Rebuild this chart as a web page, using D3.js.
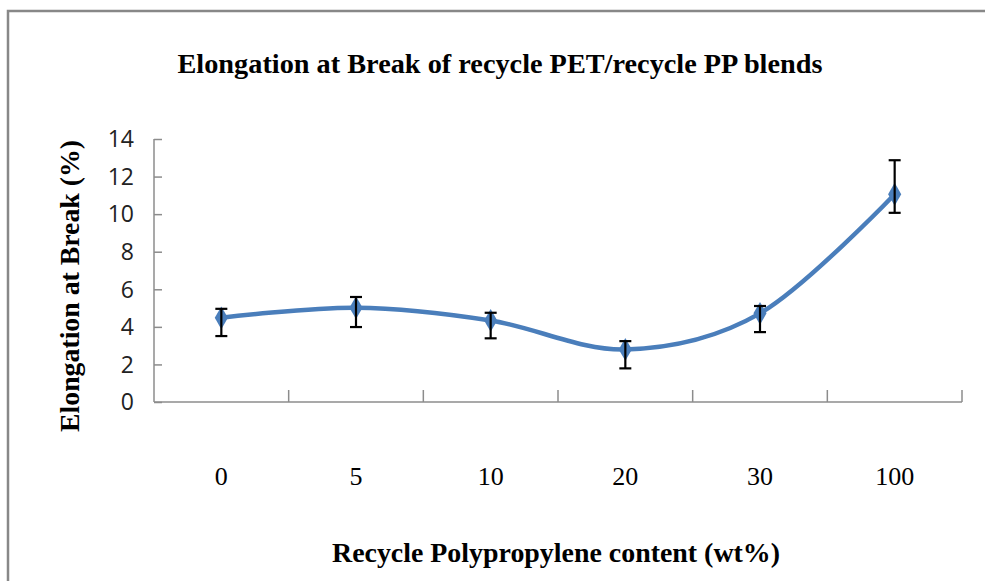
<!DOCTYPE html>
<html>
<head>
<meta charset="utf-8">
<script src="https://cdn.jsdelivr.net/npm/d3@7"></script>
<style>
  body { margin: 0; background: #fff; }
  svg { display: block; }
</style>
</head>
<body>
<div id="chart"></div>
<script>
// values
var categories = ["0", "5", "10", "20", "30", "100"];
var elongation = [4.48, 5.02, 4.34, 2.80, 4.72, 11.06];
var errUpper = [4.96, 5.59, 4.75, 3.24, 5.11, 12.87];
var errLower = [3.51, 3.99, 3.39, 1.79, 3.72, 10.07];
var yTicks = [0, 2, 4, 6, 8, 10, 12, 14];

var w = 985, h = 581;
var margin = {left: 154, right: 23, top: 139, bottom: 179};

var svg = d3.select("#chart").append("svg")
  .attr("width", w)
  .attr("height", h);

// outer frame (only top and left edges show)
svg.append("path")
  .attr("d", "M8," + h + "V11H" + w)
  .attr("fill", "none")
  .attr("stroke", "#888")
  .attr("stroke-width", 2.5);

var x = d3.scaleBand()
  .domain(categories)
  .range([margin.left, w - margin.right]);

var y = d3.scaleLinear()
  .domain([0, 14])
  .range([h - margin.bottom, margin.top]);

var axisColor = "#8c8c8c";

// y axis, ticks pointing inward
var yAxis = svg.append("g")
  .attr("transform", "translate(" + margin.left + ",0)")
  .call(d3.axisRight(y).tickValues(yTicks).tickSize(8).tickFormat(""));
yAxis.select(".domain").remove();
yAxis.selectAll(".tick line").attr("stroke", axisColor).attr("stroke-width", 1.5);

svg.append("line")
  .attr("x1", margin.left).attr("x2", margin.left)
  .attr("y1", y(14)).attr("y2", y(0))
  .attr("stroke", axisColor).attr("stroke-width", 1.5);

svg.selectAll(".ylab")
  .data(yTicks)
  .enter()
  .append("text")
  .attr("class", "ylab")
  .attr("x", 134)
  .attr("y", function(d) { return y(d); })
  .attr("dy", "0.36em")
  .attr("text-anchor", "end")
  .attr("font-family", "'Open Sans', sans-serif")
  .attr("font-size", 23)
  .attr("fill", "#222")
  .text(function(d) { return d; });

// x axis: tick marks at the category boundaries, pointing up
var bounds = categories.map(function(c) { return x(c) + x.bandwidth(); });
svg.append("line")
  .attr("x1", margin.left).attr("x2", w - margin.right)
  .attr("y1", y(0)).attr("y2", y(0))
  .attr("stroke", axisColor).attr("stroke-width", 1.5);

svg.selectAll(".xtick")
  .data(bounds)
  .enter()
  .append("line")
  .attr("x1", function(d) { return d; })
  .attr("x2", function(d) { return d; })
  .attr("y1", y(0))
  .attr("y2", y(0) - 12)
  .attr("stroke", axisColor)
  .attr("stroke-width", 1.5);

svg.selectAll(".xlab")
  .data(categories)
  .enter()
  .append("text")
  .attr("x", function(d) { return x(d) + x.bandwidth() / 2; })
  .attr("y", 485)
  .attr("text-anchor", "middle")
  .attr("font-family", "'Liberation Serif', 'Times New Roman', serif")
  .attr("font-size", 26)
  .attr("fill", "#000")
  .text(function(d) { return d; });

// smoothed line
var cx = function(d, i) { return x(categories[i]) + x.bandwidth() / 2; };

var line = d3.line()
  .x(cx)
  .y(function(d) { return y(d); })
  .curve(d3.curveCardinal.tension(0));

svg.append("path")
  .datum(elongation)
  .attr("d", line)
  .attr("fill", "none")
  .attr("stroke", "#4a7ebb")
  .attr("stroke-width", 4.5);

// markers
svg.selectAll(".marker")
  .data(elongation)
  .enter()
  .append("path")
  .attr("transform", function(d, i) { return "translate(" + cx(d, i) + "," + y(d) + ")"; })
  .attr("d", d3.symbol().type(d3.symbolDiamond).size(150))
  .attr("fill", "#4a7ebb");

// error bars
var err = svg.append("g").attr("stroke", "#000").attr("stroke-width", 2.2);
elongation.forEach(function(v, i) {
  var px = cx(v, i);
  err.append("line").attr("x1", px).attr("x2", px)
    .attr("y1", y(errUpper[i])).attr("y2", y(errLower[i]));
  err.append("line").attr("x1", px - 6).attr("x2", px + 6)
    .attr("y1", y(errUpper[i])).attr("y2", y(errUpper[i]));
  err.append("line").attr("x1", px - 6).attr("x2", px + 6)
    .attr("y1", y(errLower[i])).attr("y2", y(errLower[i]));
});

// titles
svg.append("text")
  .attr("x", 500)
  .attr("y", 73)
  .attr("text-anchor", "middle")
  .attr("font-family", "'Liberation Serif', 'Times New Roman', serif")
  .attr("font-weight", "bold")
  .attr("font-size", 28)
  .attr("textLength", 645)
  .attr("lengthAdjust", "spacingAndGlyphs")
  .attr("fill", "#000")
  .text("Elongation at Break of recycle PET/recycle PP blends");

svg.append("text")
  .attr("x", 556)
  .attr("y", 562)
  .attr("text-anchor", "middle")
  .attr("font-family", "'Liberation Serif', 'Times New Roman', serif")
  .attr("font-weight", "bold")
  .attr("font-size", 28)
  .attr("textLength", 448)
  .attr("lengthAdjust", "spacingAndGlyphs")
  .attr("fill", "#000")
  .text("Recycle Polypropylene content (wt%)");

svg.append("text")
  .attr("transform", "translate(79,286) rotate(-90)")
  .attr("text-anchor", "middle")
  .attr("font-family", "'Liberation Serif', 'Times New Roman', serif")
  .attr("font-weight", "bold")
  .attr("font-size", 27)
  .attr("textLength", 292)
  .attr("lengthAdjust", "spacingAndGlyphs")
  .attr("fill", "#000")
  .text("Elongation at Break (%)");
</script>
</body>
</html>
